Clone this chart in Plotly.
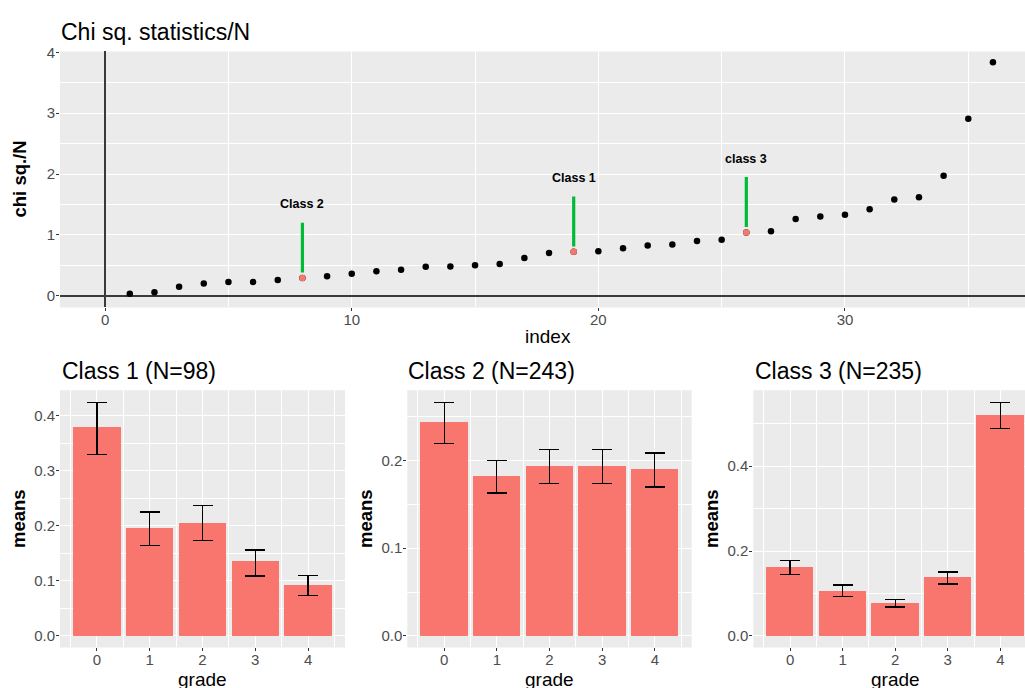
import plotly.graph_objects as go

# ---- data -------------------------------------------------------------
index = list(range(1, 37))
chisq_n = [0.03, 0.055, 0.148, 0.20, 0.224, 0.224, 0.257, 0.29, 0.32, 0.36,
           0.40, 0.426, 0.475, 0.48, 0.50, 0.52, 0.62, 0.70, 0.72, 0.73,
           0.78, 0.825, 0.84, 0.90, 0.92, 1.04, 1.06, 1.26, 1.30, 1.33,
           1.42, 1.58, 1.62, 1.97, 2.91, 3.84]

class_index = [8, 19, 26]
class_labels = ["Class 2", "Class 1", "class 3"]

grades = [0, 1, 2, 3, 4]

class1_means = [0.379, 0.196, 0.205, 0.135, 0.093]
class1_lower = [0.330, 0.164, 0.173, 0.109, 0.074]
class1_upper = [0.424, 0.225, 0.2365, 0.156, 0.110]

class2_means = [0.243, 0.1816, 0.1936, 0.1936, 0.1895]
class2_lower = [0.219, 0.163, 0.174, 0.174, 0.1696]
class2_upper = [0.2657, 0.200, 0.2124, 0.2124, 0.2086]

class3_means = [0.1623, 0.1064, 0.0777, 0.1375, 0.520]
class3_lower = [0.1445, 0.0932, 0.0683, 0.122, 0.488]
class3_upper = [0.178, 0.1196, 0.0854, 0.1507, 0.550]

panel_titles = ["Class 1 (N=98)", "Class 2 (N=243)", "Class 3 (N=235)"]

# ---- style --------------------------------------------------------------
W, H = 1025, 688
FONT = "Liberation Sans, Arial, sans-serif"
BG = "#EBEBEB"
BAR = "#F8766D"
GREEN = "#00BA38"
TICKC = "#4D4D4D"


def px(x):
    return x / W


def py(y):
    return 1 - y / H


fig = go.Figure()

# ---- top panel: chi sq / N by index ------------------------------------
fig.add_trace(go.Scatter(
    x=index, y=chisq_n, mode="markers",
    marker=dict(color="black", size=6.5),
    xaxis="x", yaxis="y", showlegend=False, hoverinfo="x+y"))

hl_y = [chisq_n[i - 1] for i in class_index]

seg_x, seg_y = [], []
for xi, yi in zip(class_index, hl_y):
    seg_x += [xi, xi, None]
    seg_y += [yi + 0.09, yi + 0.91, None]
fig.add_trace(go.Scatter(
    x=seg_x, y=seg_y, mode="lines",
    line=dict(color=GREEN, width=3.2),
    xaxis="x", yaxis="y", showlegend=False, hoverinfo="skip"))

fig.add_trace(go.Scatter(
    x=class_index, y=hl_y, mode="markers",
    marker=dict(color=BAR, size=6.5),
    xaxis="x", yaxis="y", showlegend=False))

for xi, yi, lab in zip(class_index, hl_y, class_labels):
    fig.add_annotation(x=xi, y=yi + 1.21, xref="x", yref="y", text=f"<b>{lab}</b>",
                       showarrow=False, font=dict(family=FONT, size=12.5, color="black"),
                       xanchor="center", yanchor="middle")

# ---- bottom panels: mean by grade with error bars ------------------------
panels = [
    (class1_means, class1_lower, class1_upper),
    (class2_means, class2_lower, class2_upper),
    (class3_means, class3_lower, class3_upper),
]
for k, (m, lo, hi) in enumerate(panels, start=2):
    fig.add_trace(go.Bar(
        x=grades, y=m, width=[0.9] * len(grades),
        marker=dict(color=BAR, line=dict(width=0)),
        error_y=dict(type="data", symmetric=False,
                     array=[h - v for h, v in zip(hi, m)],
                     arrayminus=[v - l for v, l in zip(m, lo)],
                     color="black", thickness=1.3, width=10),
        xaxis=f"x{k}", yaxis=f"y{k}", showlegend=False))

# ---- axes ---------------------------------------------------------------
tickfont = dict(family=FONT, size=15, color=TICKC)


def axis_common(**kw):
    d = dict(showgrid=True, gridcolor="white", gridwidth=1.2,
             ticks="outside", ticklen=3, tickwidth=1, tickcolor="#333333",
             tickfont=tickfont, showline=False, zeroline=False,
             fixedrange=True)
    d.update(kw)
    return d


layout = dict(
    width=W, height=H,
    margin=dict(l=0, r=0, t=0, b=0),
    paper_bgcolor="white", plot_bgcolor=BG,
    font=dict(family=FONT),
    bargap=0,
)

# top
layout["xaxis"] = axis_common(
    domain=[px(60), px(1025)], range=[-1.83, 37.3], anchor="y",
    tickmode="linear", tick0=0, dtick=10, ticklabelstandoff=-4,
    minor=dict(dtick=5, tick0=0, showgrid=True, gridcolor="white", gridwidth=0.6),
    zeroline=True, zerolinecolor="#3A3A3A", zerolinewidth=1.5)
layout["yaxis"] = axis_common(
    domain=[py(303), py(44)], range=[-0.195, 4.016], anchor="x",
    tickmode="linear", tick0=0, dtick=1, ticklabelstandoff=-2,
    minor=dict(dtick=0.5, tick0=0, showgrid=True, gridcolor="white", gridwidth=0.6),
    zeroline=True, zerolinecolor="#3A3A3A", zerolinewidth=1.5)

bottom_x = [(60, 345, [-0.7, 4.7]), (407.3, 691.7, [-0.7, 4.7]), (753.3, 1025, [-0.7, 4.47])]
bottom_y = [([-0.021, 0.4466], 0.1, 0.05),
            ([-0.0132, 0.28], 0.1, 0.05),
            ([-0.0273, 0.579], 0.2, 0.1)]
for k, ((x0, x1, xr), (yr, dt, mdt)) in enumerate(zip(bottom_x, bottom_y), start=2):
    layout[f"xaxis{k}"] = axis_common(
        domain=[px(x0), px(x1)], range=xr, anchor=f"y{k}",
        tickmode="array", tickvals=grades, ticktext=[str(g) for g in grades],
        ticklabelstandoff=-4,
        minor=dict(tickmode="array", tickvals=[g + 0.5 for g in [-1] + grades],
                   showgrid=True, gridcolor="white", gridwidth=0.6))
    layout[f"yaxis{k}"] = axis_common(
        domain=[py(647), py(386.7)], range=yr, anchor=f"x{k}",
        tickmode="linear", tick0=0, dtick=dt, tickformat=".1f", ticklabelstandoff=-2,
        minor=dict(dtick=mdt, tick0=0, showgrid=True, gridcolor="white", gridwidth=0.6))

fig.update_layout(**layout)

# ---- titles and axis labels --------------------------------------------
def label(x, y, text, size, rot=0, xanchor="center", bold=False, color="black"):
    fig.add_annotation(x=px(x), y=py(y), xref="paper", yref="paper",
                       text=f"<b>{text}</b>" if bold else text, showarrow=False,
                       textangle=rot, xanchor=xanchor, yanchor="middle",
                       font=dict(family=FONT, size=size, color=color))


label(59, 24, "Chi sq. statistics/N", 23, xanchor="left")
label(548, 332, "index", 19)
label(19, 173.5, "chi sq./N", 18.5, rot=-90, bold=True)

title_x = [60, 406, 753]
means_x = [19, 366, 712]
for t, tx, mx, (x0, x1, _) in zip(panel_titles, title_x, means_x, bottom_x):
    label(tx, 367, t, 23, xanchor="left")
    label(mx, 517, "means", 18.5, rot=-90, bold=True)
    label((x0 + (x1 if x1 < 1025 else 1037)) / 2, 679.5, "grade", 19)

fig.write_html("out.html")
